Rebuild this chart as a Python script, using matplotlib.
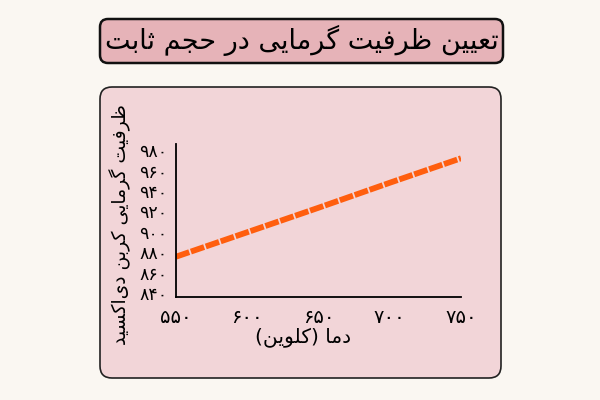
import matplotlib
matplotlib.use('Agg')
import matplotlib.pyplot as plt
from matplotlib.patches import FancyBboxPatch

# ---------------- data ----------------
temperature = [550, 600, 650, 700, 750]
heat_capacity = [875.5, 899.5, 923.5, 948, 972]
x_ticks = [550, 600, 650, 700, 750]
y_ticks = [840, 860, 880, 900, 920, 940, 960, 980]
title_text = "تعیین ظرفیت گرمایی در حجم ثابت"
x_label = "دما (کلوین)"
y_label = "ظرفیت گرمایی کربن دی\u200cاکسید"

# ---------------- minimal Arabic/Persian shaping ----------------
FORMS = {
    '\u0627': ('\uFE8D', '\uFE8E', None, None),
    '\u0628': ('\uFE8F', '\uFE90', '\uFE91', '\uFE92'),
    '\u062A': ('\uFE95', '\uFE96', '\uFE97', '\uFE98'),
    '\u062B': ('\uFE99', '\uFE9A', '\uFE9B', '\uFE9C'),
    '\u062C': ('\uFE9D', '\uFE9E', '\uFE9F', '\uFEA0'),
    '\u062D': ('\uFEA1', '\uFEA2', '\uFEA3', '\uFEA4'),
    '\u062E': ('\uFEA5', '\uFEA6', '\uFEA7', '\uFEA8'),
    '\u062F': ('\uFEA9', '\uFEAA', None, None),
    '\u0630': ('\uFEAB', '\uFEAC', None, None),
    '\u0631': ('\uFEAD', '\uFEAE', None, None),
    '\u0632': ('\uFEAF', '\uFEB0', None, None),
    '\u0633': ('\uFEB1', '\uFEB2', '\uFEB3', '\uFEB4'),
    '\u0634': ('\uFEB5', '\uFEB6', '\uFEB7', '\uFEB8'),
    '\u0635': ('\uFEB9', '\uFEBA', '\uFEBB', '\uFEBC'),
    '\u0636': ('\uFEBD', '\uFEBE', '\uFEBF', '\uFEC0'),
    '\u0637': ('\uFEC1', '\uFEC2', '\uFEC3', '\uFEC4'),
    '\u0638': ('\uFEC5', '\uFEC6', '\uFEC7', '\uFEC8'),
    '\u0639': ('\uFEC9', '\uFECA', '\uFECB', '\uFECC'),
    '\u063A': ('\uFECD', '\uFECE', '\uFECF', '\uFED0'),
    '\u0641': ('\uFED1', '\uFED2', '\uFED3', '\uFED4'),
    '\u0642': ('\uFED5', '\uFED6', '\uFED7', '\uFED8'),
    '\u0644': ('\uFEDD', '\uFEDE', '\uFEDF', '\uFEE0'),
    '\u0645': ('\uFEE1', '\uFEE2', '\uFEE3', '\uFEE4'),
    '\u0646': ('\uFEE5', '\uFEE6', '\uFEE7', '\uFEE8'),
    '\u0647': ('\uFEE9', '\uFEEA', '\uFEEB', '\uFEEC'),
    '\u0648': ('\uFEED', '\uFEEE', None, None),
    '\u06CC': ('\uFBFC', '\uFBFD', '\uFBFE', '\uFBFF'),
    '\u06A9': ('\uFB8E', '\uFB8F', '\uFB90', '\uFB91'),
    '\u06AF': ('\uFB92', '\uFB93', '\uFB94', '\uFB95'),
    '\u067E': ('\uFB56', '\uFB57', '\uFB58', '\uFB59'),
    '\u0686': ('\uFB7A', '\uFB7B', '\uFB7C', '\uFB7D'),
    '\u0698': ('\uFB8A', '\uFB8B', None, None),
}
MIRROR = {'(': ')', ')': '('}


def rtl(text):
    out = []
    n = len(text)
    for i, c in enumerate(text):
        if c == '\u200c':
            continue
        if c not in FORMS:
            out.append(c)
            continue
        prev = text[i - 1] if i > 0 else None
        nxt = text[i + 1] if i + 1 < n else None
        jp = prev in FORMS and FORMS[prev][2] is not None
        jn = nxt in FORMS and FORMS[c][2] is not None
        iso, fin, ini, med = FORMS[c]
        if jp and jn:
            out.append(med)
        elif jp:
            out.append(fin)
        elif jn:
            out.append(ini)
        else:
            out.append(iso)
    return ''.join(MIRROR.get(ch, ch) for ch in reversed(out))


def fa_digits(v):
    return str(v).translate(str.maketrans('0123456789', '۰۱۲۳۴۵۶۷۸۹'))


# ---------------- figure ----------------
plt.rcParams['font.family'] = ['DejaVu Sans']
fig = plt.figure(figsize=(6, 4), dpi=100)
fig.patch.set_facecolor('#FAF7F2')

bg = fig.add_axes([0, 0, 1, 1], zorder=0)
bg.set_xlim(0, 600)
bg.set_ylim(400, 0)
bg.axis('off')

# outer card
bg.add_patch(FancyBboxPatch((100, 87), 401, 291,
                            boxstyle="round,pad=0,rounding_size=12",
                            facecolor='#F2D5D8', edgecolor='#222222', linewidth=1.2))
# title box
bg.add_patch(FancyBboxPatch((100, 19), 403, 44,
                            boxstyle="round,pad=0,rounding_size=8",
                            facecolor='#E6B3B8', edgecolor='#111111', linewidth=1.8))
bg.text(302, 40, rtl(title_text), ha='center', va='center', fontsize=19.5, color='black')

# axis labels
bg.text(120, 225, rtl(y_label), ha='center', va='center', rotation=90, fontsize=13.5, color='black')
bg.text(303, 337, rtl(x_label), ha='center', va='center', fontsize=14.5, color='black')

# plot area
ax = fig.add_axes([176 / 600, 103 / 400, 285 / 600, 153 / 400], zorder=1)
ax.patch.set_alpha(0)
ax.plot(temperature, heat_capacity, color='#FF5E0E', linewidth=4.2,
        dashes=(2.4, 0.3), dash_capstyle='butt', solid_capstyle='round')
ax.set_xlim(550, 750)
ax.set_ylim(836, 986)
ax.set_xticks(x_ticks)
ax.set_xticklabels([fa_digits(v) for v in x_ticks])
ax.set_yticks(y_ticks)
ax.set_yticklabels([fa_digits(v) for v in y_ticks])
ax.tick_params(length=0, colors='black')
ax.tick_params(axis='x', pad=8, labelsize=14)
ax.tick_params(axis='y', pad=6, labelsize=12.5)
for s in ('top', 'right'):
    ax.spines[s].set_visible(False)
for s in ('left', 'bottom'):
    ax.spines[s].set_color('black')
    ax.spines[s].set_linewidth(1.3)

fig.savefig('out.png', dpi=100, facecolor=fig.get_facecolor())
